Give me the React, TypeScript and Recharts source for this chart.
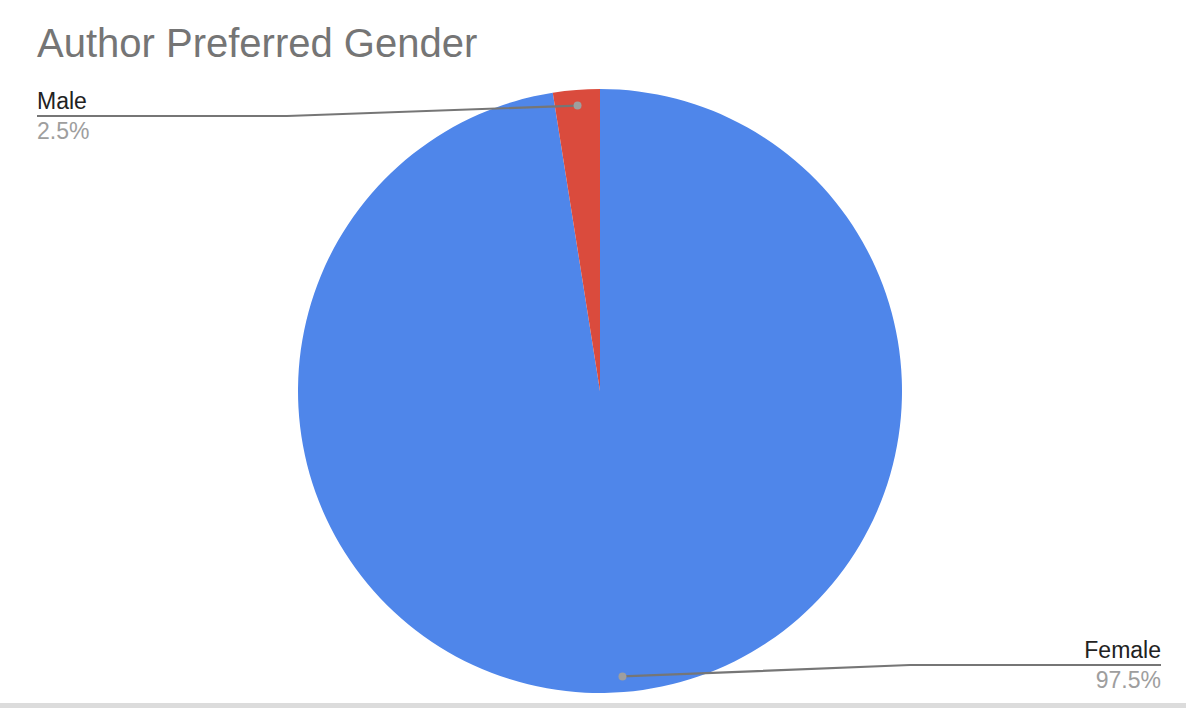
import React from 'react';
import { PieChart, Pie, Cell } from 'recharts';

const genders = ['Female', 'Male'];
const shares = [97.5, 2.5];
const sliceColors = ['#4F86EA', '#DA4B3D'];

const data = genders.map((name, i) => ({ name, value: shares[i] }));

const W = 1186;
const H = 708;
const FONT = '"Liberation Sans", Arial, sans-serif';
const RAD = Math.PI / 180;

// label with a dot inside the slice, a bent leader line and text at the chart edge
const renderLabel = (props: any) => {
  const { cx, cy, midAngle, outerRadius, percent, name } = props;
  const dx = Math.cos(-midAngle * RAD);
  const dy = Math.sin(-midAngle * RAD);
  const px = cx + outerRadius * 0.948 * dx;
  const py = cy + outerRadius * 0.948 * dy;
  const left = dx < 0;
  const top = dy < 0;
  const lineY = top ? cy - outerRadius + 27 : cy + outerRadius - 28;
  const edgeX = left ? 37 : 1161;
  const elbowX = left ? edgeX + 250 : edgeX - 251;
  const anchor = left ? 'start' : 'end';
  return (
    <g key={name}>
      <polyline
        points={`${px},${py} ${elbowX},${lineY} ${edgeX},${lineY}`}
        fill="none"
        stroke="#767676"
        strokeWidth={2.2}
      />
      <circle cx={px} cy={py} r={4} fill="#9e9e9e" />
      <text x={edgeX} y={lineY - 7} textAnchor={anchor} fontSize={23} fontFamily={FONT} fill="#222222">
        {name}
      </text>
      <text x={edgeX} y={lineY + 23} textAnchor={anchor} fontSize={23} fontFamily={FONT} fill="#9e9e9e">
        {(percent * 100).toFixed(1)}%
      </text>
    </g>
  );
};

export default function App() {
  return (
    <div style={{ position: 'absolute', left: 0, top: 0, width: W, height: H, background: '#fff', overflow: 'hidden' }}>
      <div
        style={{
          position: 'absolute',
          left: 37,
          top: 20,
          fontFamily: FONT,
          fontSize: 40,
          lineHeight: '46px',
          color: '#757575',
          whiteSpace: 'nowrap',
        }}
      >
        Author Preferred Gender
      </div>
      <PieChart width={W} height={H} margin={{ top: 0, right: 0, bottom: 0, left: 0 }}>
        <Pie
          data={data}
          dataKey="value"
          nameKey="name"
          cx={600}
          cy={391}
          outerRadius={302}
          startAngle={90}
          endAngle={-270}
          stroke="none"
          label={renderLabel}
          labelLine={false}
          isAnimationActive={false}
        >
          {data.map((d, i) => (
            <Cell key={d.name} fill={sliceColors[i]} />
          ))}
        </Pie>
      </PieChart>
      <div style={{ position: 'absolute', left: 0, top: 703, width: W, height: 5, background: '#dcdcdc' }} />
    </div>
  );
}
